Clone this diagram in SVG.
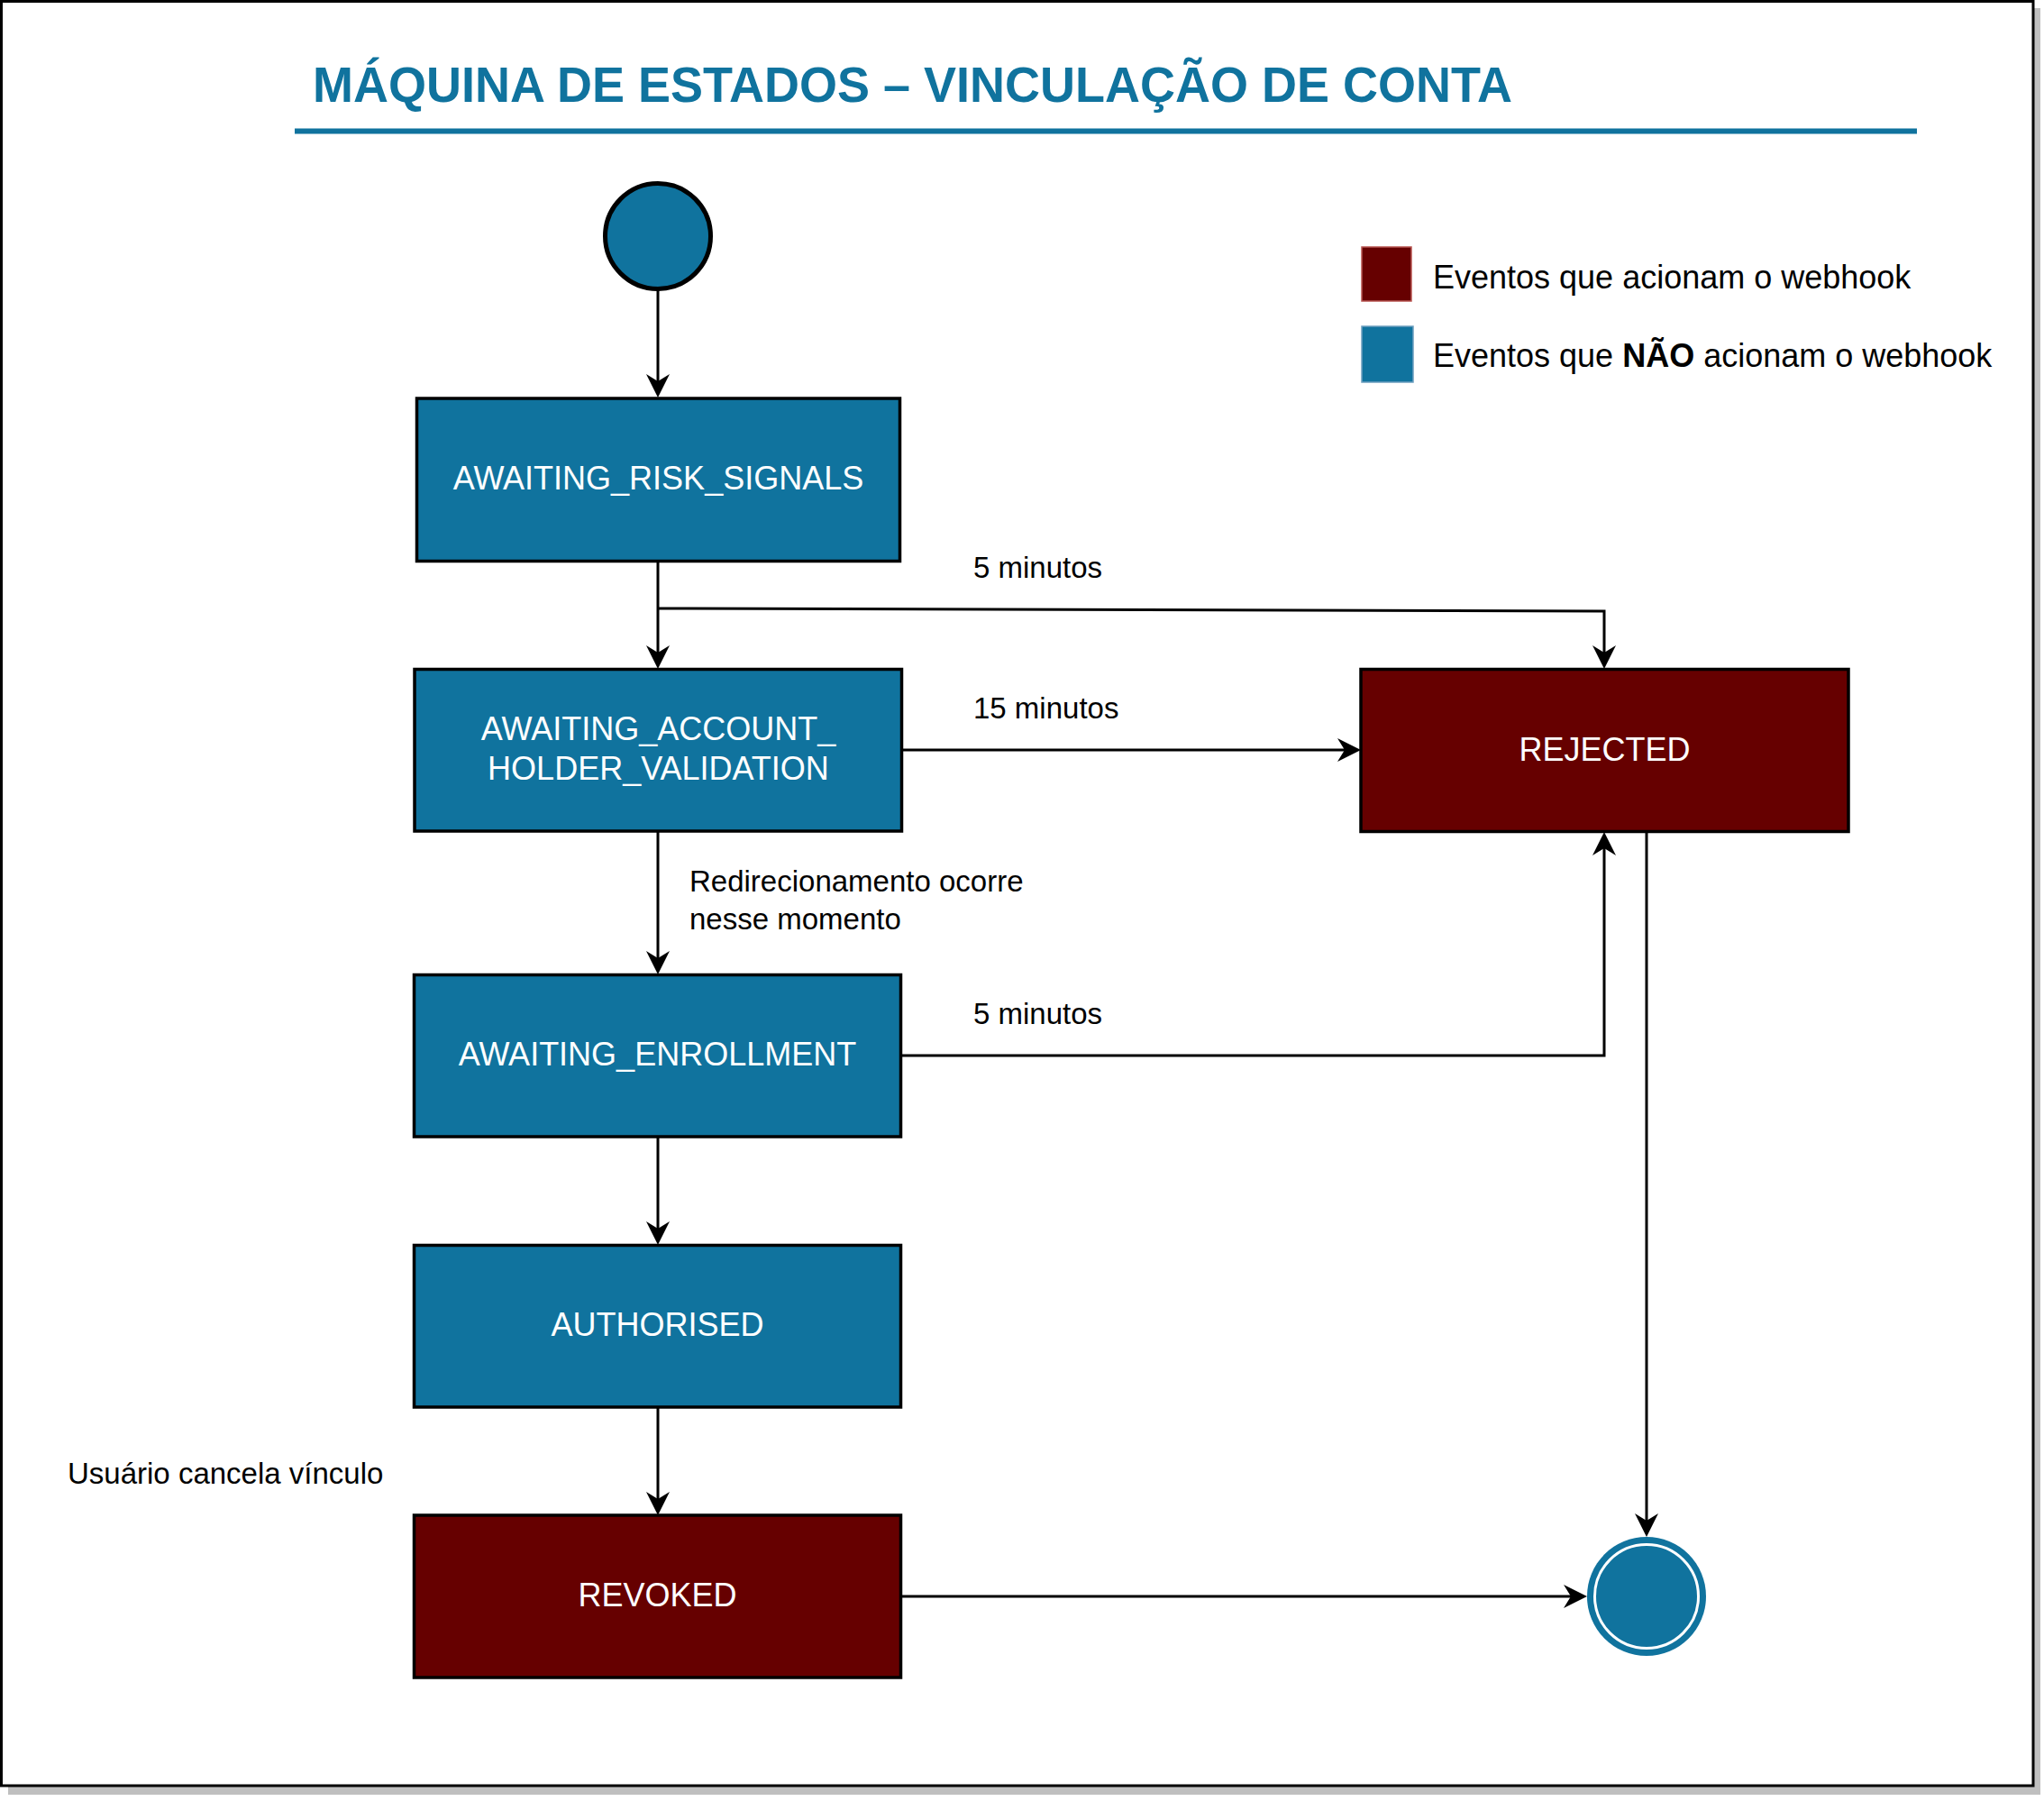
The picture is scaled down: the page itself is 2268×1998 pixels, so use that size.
<svg xmlns="http://www.w3.org/2000/svg" width="2268" height="1998" viewBox="0 0 2268 1998">
<style>
.box{stroke:#000;stroke-width:3.5}
.blue{fill:#10739E}
.red{fill:#660000}
.lbl{font-family:"Liberation Sans",Arial,Helvetica,sans-serif;font-size:36px;fill:#fff;text-anchor:middle}
.edge-lbl{font-family:"Liberation Sans",Arial,Helvetica,sans-serif;font-size:33px;fill:#000}
.leg{font-family:"Liberation Sans",Arial,Helvetica,sans-serif;font-size:36px;fill:#000}
.conn{fill:none;stroke:#000;stroke-width:3;marker-end:url(#arrow)}
</style>
<defs>
<marker id="arrow" markerUnits="userSpaceOnUse" markerWidth="26" markerHeight="26" refX="16" refY="13" orient="auto" overflow="visible">
<path d="M0,0 L26,13 L0,26 L8,13 Z" fill="#000"/>
</marker>
</defs>
<g id="frame">
<rect x="9" y="9" width="2255" height="1982" fill="#bfbfbf"/>
<rect x="1.5" y="1.5" width="2254.5" height="1979.5" fill="#fff" stroke="#000" stroke-width="3"/>
</g>
<g id="title">
<text x="347" y="113" font-family="'Liberation Sans',Arial,Helvetica,sans-serif" font-size="55" font-weight="bold" fill="#10739E" textLength="1331" lengthAdjust="spacingAndGlyphs">MÁQUINA DE ESTADOS – VINCULAÇÃO DE CONTA</text>
<rect x="327" y="142.5" width="1800" height="6" fill="#10739E"/>
</g>
<g id="legend">
<rect x="1511" y="274" width="55" height="60" fill="#660000" stroke="#b85450" stroke-width="1.5"/>
<text class="leg" x="1590" y="320">Eventos que acionam o webhook</text>
<rect x="1511" y="362" width="57" height="62" fill="#10739E" stroke="#6c9ebf" stroke-width="1.5"/>
<text class="leg" x="1590" y="407">Eventos que <tspan font-weight="bold">NÃO</tspan> acionam o webhook</text>
</g>
<g id="connectors">
<path class="conn" d="M730 322 V431"/>
<path class="conn" d="M730 623 V732"/>
<path class="conn" d="M730 675 L1780 678 V732"/>
<path class="conn" d="M1001 832 H1500"/>
<path class="conn" d="M730 922 V1071"/>
<path class="conn" d="M1000 1171 H1780 V933"/>
<path class="conn" d="M1827 923 V1695"/>
<path class="conn" d="M730 1261 V1371"/>
<path class="conn" d="M730 1562 V1671"/>
<path class="conn" d="M1000 1771 H1751"/>
<text class="edge-lbl" x="1080" y="641">5 minutos</text>
<text class="edge-lbl" x="1080" y="797">15 minutos</text>
<text class="edge-lbl" x="765" y="989">Redirecionamento ocorre</text>
<text class="edge-lbl" x="765" y="1031">nesse momento</text>
<text class="edge-lbl" x="1080" y="1136">5 minutos</text>
<text class="edge-lbl" x="75" y="1646">Usuário cancela vínculo</text>
</g>
<g id="start">
<circle cx="730" cy="262" r="58.5" fill="#10739E" stroke="#000" stroke-width="5"/>
</g>
<g id="awaiting-risk-signals">
<rect class="box blue" x="462.5" y="442" width="536" height="180.5"/>
<text class="lbl" x="730.5" y="543">AWAITING_RISK_SIGNALS</text>
</g>
<g id="awaiting-account-holder-validation">
<rect class="box blue" x="460" y="742.5" width="540.5" height="179.5"/>
<text class="lbl" x="730.5" y="821">AWAITING_ACCOUNT_</text>
<text class="lbl" x="730.5" y="865">HOLDER_VALIDATION</text>
</g>
<g id="awaiting-enrollment">
<rect class="box blue" x="459.5" y="1081.5" width="540" height="179.5"/>
<text class="lbl" x="729.5" y="1182">AWAITING_ENROLLMENT</text>
</g>
<g id="authorised">
<rect class="box blue" x="459.5" y="1381.5" width="540" height="179.5"/>
<text class="lbl" x="729.5" y="1482">AUTHORISED</text>
</g>
<g id="revoked">
<rect class="box red" x="459.5" y="1681" width="540" height="180"/>
<text class="lbl" x="729.5" y="1782">REVOKED</text>
</g>
<g id="rejected">
<rect class="box red" x="1510" y="742.5" width="541" height="180"/>
<text class="lbl" x="1780.5" y="844">REJECTED</text>
</g>
<g id="end">
<circle cx="1827" cy="1771" r="66" fill="#10739E"/>
<circle cx="1827" cy="1771" r="57.5" fill="#10739E" stroke="#fff" stroke-width="3"/>
</g>
</svg>
